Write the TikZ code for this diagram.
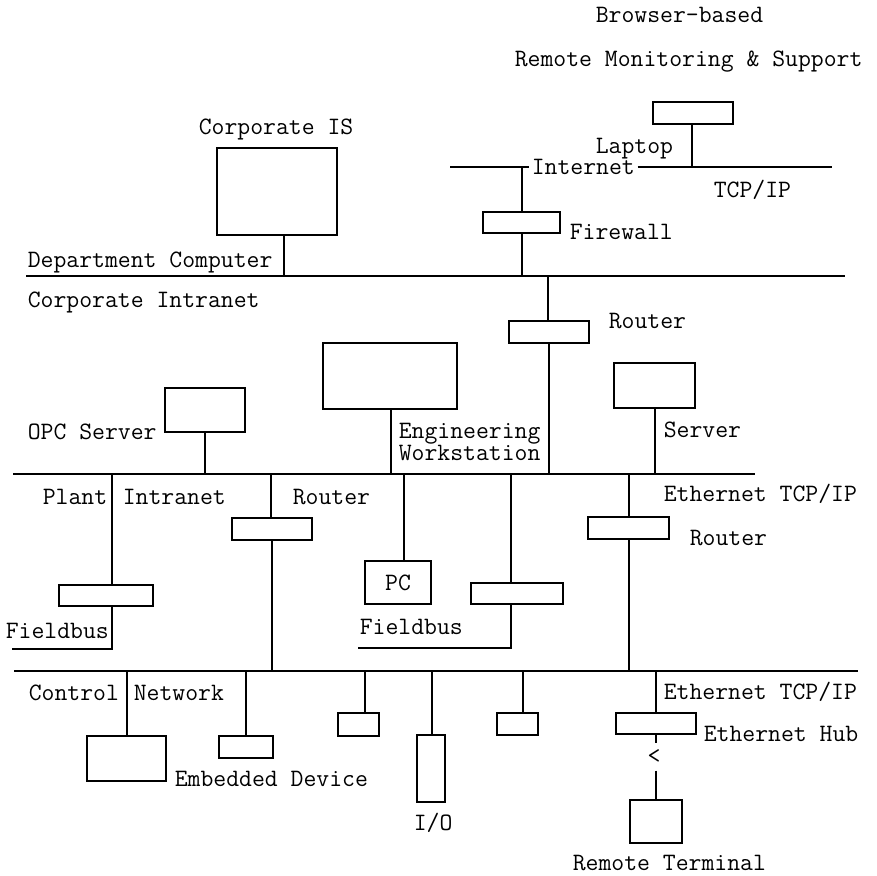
\documentclass[tikz,border=0pt]{standalone}
\usetikzlibrary{fit}

\begin{document}
\begin{tikzpicture}[x=0.5pt,y=-0.5pt,line width=0.8pt,
                    font=\ttfamily\fontsize{12.5}{13}\selectfont]
  \tikzstyle{dev}=[draw,inner sep=0pt]
  \tikzstyle{lbl}=[anchor=west,inner sep=0pt,text height=7.5pt,text depth=0pt]
  \tikzstyle{feed}=[line width=1.4pt]

  \useasboundingbox (0,0) rectangle (877,876);

  % --- internet side
  \node[lbl] (browser) at (595,15)  {Browser-based};
  \node[lbl] (remote)  at (514,59)  {Remote Monitoring \& Support};
  \node[dev, fit={(653,102) (733,124)}] (laptop) {};
  \node[lbl] at (595,146) {Laptop};
  \node[lbl,inner xsep=1pt] (inet) at (529,167) {Internet};
  \node[lbl] at (713,190) {TCP/IP};
  \node[dev, fit={(483,212) (560,233)}] (fw) {};
  \node[lbl] at (569,232) {Firewall};
  \coordinate (inetL) at (450,167);
  \coordinate (inetR) at (832,167);
  \coordinate (lapTap) at (692,167);
  \coordinate (fwTap)  at (522,167);
  \draw (inetL) -- (inet.west);
  \draw (inet.east) -- (inetR);
  \draw (laptop.south -| lapTap) -- (lapTap);

  % --- corporate intranet
  \coordinate (corpL) at (26,276);
  \coordinate (corpR) at (845,276);
  \draw (corpL) -- (corpR);
  \node[lbl] at (198,127) {Corporate IS};
  \node[lbl] at (27,260)  {Department Computer};
  \node[lbl] at (27,300)  {Corporate Intranet};
  \node[dev, fit={(217,148) (337,235)}] (corpis) {};
  \path (corpis.south -| 284,0) edge (284,276)
        (fwTap)                edge (fwTap |- fw.north)
        (fw.south -| fwTap)    edge (fwTap |- corpL);
  \node[dev, fit={(509,321) (589,343)}] (rtCorp) {};
  \node[lbl] at (608,321) {Router};
  \draw[feed] (548,276) -- (rtCorp.north -| 548,0);

  % --- plant intranet
  \coordinate (plantL) at (13,474);
  \coordinate (plantR) at (755,474);
  \draw (plantL) -- (plantR);
  \draw (rtCorp.south -| 549,0) -- (549,474);
  \node[dev, fit={(165,388) (245,432)}] (opc) {};
  \node[lbl] at (27,432) {OPC Server};
  \draw[feed] (opc.south -| 205,0) -- (205,474);
  \node[dev, fit={(323,343) (457,409)}] (ews) {};
  \node[lbl] at (398,431) {Engineering};
  \node[lbl] at (398,453) {Workstation};
  \draw[feed] (ews.south -| 391,0) -- (391,474);
  \node[dev, fit={(614,363) (695,408)}] (srv) {};
  \node[lbl] at (663,430) {Server};
  \draw (srv.south -| 655,0) -- (655,474);
  \node[lbl] at (42,497)  {Plant};
  \node[lbl] at (122,497) {Intranet};

  % fieldbus, left
  \node[dev, fit={(59,585) (153,606)}] (fbL) {};
  \node[lbl] at (5,631) {Fieldbus};
  \draw (112,474) -- (fbL.north -| 112,0);
  \draw[feed] (fbL.south -| 112,0) -- (112,649) -- (12,649);

  % router down to the control network
  \node[dev, fit={(232,518) (312,540)}] (rtPlant) {};
  \node[lbl] at (292,497) {Router};
  \draw (271,474) -- (rtPlant.north -| 271,0);
  \draw[feed] (rtPlant.south -| 272,0) -- (272,671);

  % PC and fieldbus, middle
  \node[dev, fit={(365,561) (431,604)}] (pc) {};
  \node at (pc) {PC};
  \draw (404,474) -- (pc.north -| 404,0);
  \node[dev, fit={(471,583) (563,604)}] (fbM) {};
  \node[lbl] at (359,627) {Fieldbus};
  \draw[feed] (511,474) -- (fbM.north -| 511,0);
  \draw (fbM.south -| 511,0) -- (511,648) -- (358,648);

  % router, right
  \node[dev, fit={(588,517) (669,539)}] (rtEth) {};
  \node[lbl] at (663,494) {Ethernet TCP/IP};
  \node[lbl] at (689,538) {Router};
  \draw (629,474) -- (rtEth.north -| 629,0);
  \draw[feed] (rtEth.south -| 629,0) -- (629,671);

  % --- control network
  \coordinate (ctrlL) at (14,671);
  \coordinate (ctrlR) at (858,671);
  \draw (ctrlL) -- (ctrlR);
  \node[lbl] at (28,693)  {Control};
  \node[lbl] at (133,693) {Network};
  \node[dev, fit={(87,736) (166,781)}]  (dev1) {};
  \node[dev, fit={(219,736) (273,758)}] (dev2) {};
  \node[lbl] at (174,779) {Embedded Device};
  \node[dev, fit={(338,713) (379,736)}] (dev3) {};
  \node[dev, fit={(417,735) (445,802)}] (io) {};
  \node[lbl] at (413,823) {I/O};
  \node[dev, fit={(497,713) (538,735)}] (dev4) {};
  \path (127,671) edge (dev1.north -| 127,0)
        (246,671) edge (dev2.north -| 246,0)
        (365,671) edge (dev3.north -| 365,0)
        (432,671) edge (io.north -| 432,0)
        (523,671) edge (dev4.north -| 523,0);

  % ethernet hub and remote terminal
  \node[dev, fit={(616,713) (696,734)}] (hub) {};
  \node[lbl] at (663,692) {Ethernet TCP/IP};
  \node[lbl] at (703,734) {Ethernet Hub};
  \draw (656,671) -- (hub.north -| 656,0);
  \node[inner xsep=0pt,inner ysep=3pt] (plug) at (654,757) {<};
  \node[dev, fit={(630,800) (682,843)}] (term) {};
  \node[lbl] at (572,863) {Remote Terminal};
  \draw[feed] (hub.south -| 656,0) -- (plug.north -| 656,0);
  \draw[feed] (plug.south -| 656,0) -- (term.north -| 656,0);
\end{tikzpicture}
\end{document}
